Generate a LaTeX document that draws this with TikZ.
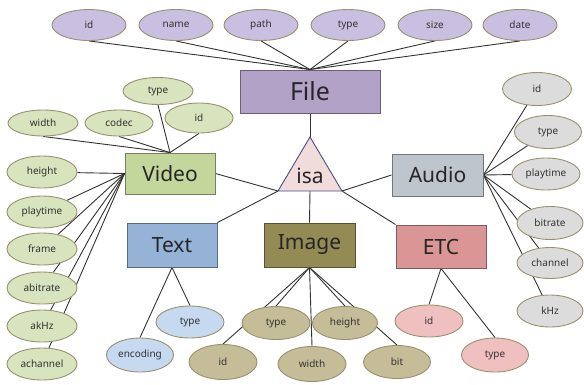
\documentclass[tikz,border=0pt]{standalone}
\usepackage{fontspec}
\setmainfont{Noto Sans}
\usetikzlibrary{shapes.geometric,backgrounds}
\definecolor{fileA}{HTML}{C9BFE0}
\definecolor{fileR}{HTML}{B3A2C7}
\definecolor{vidA}{HTML}{D7E4BD}
\definecolor{vidR}{HTML}{C3D69B}
\definecolor{txtA}{HTML}{C6D9F1}
\definecolor{txtR}{HTML}{95B3D7}
\definecolor{imgA}{HTML}{C4BD97}
\definecolor{imgR}{HTML}{948A54}
\definecolor{etcA}{HTML}{F0C0C0}
\definecolor{etcR}{HTML}{D99694}
\definecolor{audA}{HTML}{DCDCDC}
\definecolor{audR}{HTML}{BFC5CC}
\definecolor{isaF}{HTML}{F2DCDB}
\definecolor{attrB}{HTML}{9A9070}
\begin{document}
\begin{tikzpicture}[x=1pt,y=-1pt,
  attr/.style={ellipse,draw=attrB,line width=0.9pt,inner sep=0pt,minimum width=68pt,minimum height=32pt,font=\fontsize{10}{12}\selectfont,text=black!80},
  ent/.style={rectangle,draw=#1!60!black,line width=0.9pt,fill=#1,inner sep=0pt,font=\fontsize{21}{24}\selectfont,text=black!85},
  link/.style={draw=black!80,line width=0.9pt}]
\useasboundingbox (0,0) rectangle (584,384);
% entities
\node[ent=fileR,minimum width=140pt,minimum height=43pt,font=\fontsize{25}{28}\selectfont] (File) at (310,91.5) {File};
\node[ent=vidR,minimum width=90pt,minimum height=41pt] (Video) at (170,173.5) {Video};
\node[ent=audR,minimum width=91pt,minimum height=42pt] (Audio) at (437.5,175) {Audio};
\node[ent=txtR,minimum width=90pt,minimum height=44pt] (Text) at (172,245) {Text};
\node[ent=imgR,minimum width=91pt,minimum height=44pt] (Image) at (309.5,245) {Image};
\node[ent=etcR,minimum width=90pt,minimum height=43pt] (ETC) at (441,246.5) {ETC};
% isa triangle
\coordinate (isaTop) at (310,137);
\coordinate (isaL) at (278,191);
\coordinate (isaR) at (342,191);
\coordinate (isaB) at (310,191);
\draw[fill=isaF,draw=black!45!blue!40!gray,line width=0.9pt] (isaTop) -- (isaR) -- (isaL) -- cycle;
\node[font=\fontsize{21}{24}\selectfont,text=black!85,inner sep=0pt] (isa) at (310,176) {isa};
% File attributes
\foreach \n/\t/\x in {fid/id/89,fname/name/176,fpath/path/261,ftype/type/348,fsize/size/435,fdate/date/520}
  \node[attr,fill=fileA,minimum width=74pt,minimum height=31pt] (\n) at (\x,25) {\t};
% Video attributes
\node[attr,fill=vidA,minimum width=70pt,minimum height=27pt] (vtype) at (158,91) {type};
\node[attr,fill=vidA,minimum width=70pt,minimum height=26pt] (vwidth) at (43,123) {width};
\node[attr,fill=vidA,minimum width=68pt,minimum height=26pt] (vcodec) at (119,123) {codec};
\node[attr,fill=vidA,minimum width=68pt,minimum height=30pt] (vid) at (199,118) {id};
\foreach \n/\t/\y in {vheight/height/172,vplay/playtime/212,vframe/frame/249,vabit/abitrate/288,vakhz/akHz/326,vachan/achannel/364}
  \node[attr,fill=vidA,minimum width=70pt,minimum height=32pt] (\n) at (42,\y) {\t};
% Audio attributes
\node[attr,fill=audA,minimum width=69pt,minimum height=33pt] (aid) at (537,89) {id};
\node[attr,fill=audA,minimum width=67pt,minimum height=33pt] (atype) at (548,132) {type};
\node[attr,fill=audA,minimum width=68pt,minimum height=32pt] (aplay) at (546,174) {playtime};
\node[attr,fill=audA,minimum width=66pt,minimum height=33pt] (abit) at (550,223) {bitrate};
\node[attr,fill=audA,minimum width=66pt,minimum height=31pt] (achan) at (550,263) {channel};
\node[attr,fill=audA,minimum width=66pt,minimum height=32pt] (akhz) at (550,311) {kHz};
% Text attributes
\node[attr,fill=txtA,minimum width=68pt,minimum height=32pt] (ttype) at (190,322) {type};
\node[attr,fill=txtA,minimum width=67pt,minimum height=34pt] (tenc) at (140,355) {encoding};
% Image attributes
\node[attr,fill=imgA,minimum width=68pt,minimum height=33pt] (itype) at (276,323) {type};
\node[attr,fill=imgA,minimum width=65pt,minimum height=33pt] (iheight) at (345,323) {height};
\node[attr,fill=imgA,minimum width=68pt,minimum height=35pt] (iid) at (223,362) {id};
\node[attr,fill=imgA,minimum width=68pt,minimum height=35pt] (iwidth) at (312,364) {width};
\node[attr,fill=imgA,minimum width=67pt,minimum height=33pt] (ibit) at (397,362) {bit};
% ETC attributes
\node[attr,fill=etcA,minimum width=68pt,minimum height=32pt] (eid) at (429,321) {id};
\node[attr,fill=etcA,minimum width=67pt,minimum height=34pt] (etype) at (495,355) {type};
% connectors
\begin{pgfonlayer}{background}
\foreach \n in {fid,fname,fpath,ftype,fsize,fdate}
  \draw[link] (\n.south) -- (File.north);
\foreach \n in {vtype,vwidth,vcodec,vid}
  \draw[link] (\n.south) -- (Video.north);
\foreach \n in {vheight,vplay,vframe,vabit,vakhz,vachan}
  \draw[link] (\n) -- (Video.west);
\foreach \n in {aid,atype,aplay,abit,achan,akhz}
  \draw[link] (\n) -- (Audio.east);
\foreach \n in {ttype,tenc}
  \draw[link] (\n.north) -- (Text.south);
\foreach \n in {itype,iheight,iid,iwidth,ibit}
  \draw[link] (\n.north) -- (Image.south);
\foreach \n in {eid,etype}
  \draw[link] (\n.north) -- (ETC.south);
\draw[link] (File.south) -- (isaTop);
\draw[link] (Video.east) -- (isaL);
\draw[link] (Text.north east) -- (isaL);
\draw[link] (isaB) -- (Image.north);
\draw[link] (isaR) -- (Audio.west);
\draw[link] (isaR) -- (ETC.north west);
\end{pgfonlayer}
\end{tikzpicture}
\end{document}
